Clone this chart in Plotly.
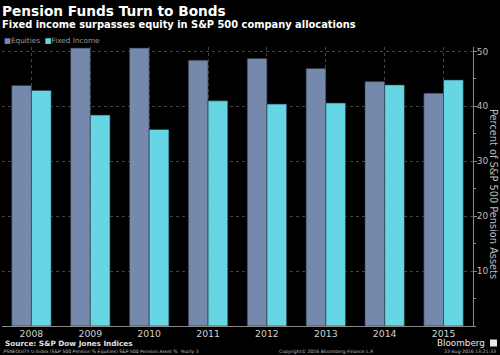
import plotly.graph_objects as go

years = ["2008", "2009", "2010", "2011", "2012", "2013", "2014", "2015"]
equities = [43.8, 50.6, 50.6, 48.4, 48.7, 46.9, 44.5, 42.4]
fixed_income = [42.9, 38.4, 35.8, 41.0, 40.4, 40.6, 43.9, 44.8]
series_names = ["Equities", "Fixed Income"]
colors = ["#7489ac", "#66d5e4"]
y_ticks = [10, 20, 30, 40, 50]

W, H = 500, 355
L, R, T, B = 2, 27, 47, 29
PW, PH = W - L - R, H - T - B


def px(x):
    return (x - L) / PW


def py(y):
    return (H - B - y) / PH


fig = go.Figure()
for name, vals, col in zip(series_names, [equities, fixed_income], colors):
    fig.add_trace(go.Bar(
        x=years, y=vals, name=name, marker_color=col,
        marker_line=dict(color="#2a3340", width=0.6), showlegend=False,
    ))

fig.update_layout(
    width=W, height=H,
    margin=dict(l=L, r=R, t=T, b=B, pad=0),
    paper_bgcolor="black", plot_bgcolor="black",
    barmode="group", bargap=0.33, bargroupgap=0,
    font=dict(family="DejaVu Sans", color="#cfcfcf"),
)
fig.update_xaxes(
    type="category", range=[-0.5, 7.5],
    showgrid=True, gridcolor="#444444", griddash="dot", gridwidth=1,
    showline=True, linecolor="#8a8a8a", linewidth=1,
    ticks="", tickfont=dict(size=9.3, color="#d0d0d0", family="DejaVu Sans"),
    ticklabelstandoff=-1,
)
fig.update_yaxes(
    side="right", range=[0, 50.8], tickvals=y_ticks,
    showgrid=True, gridcolor="#444444", griddash="dot", gridwidth=1,
    showline=True, linecolor="#8a8a8a", linewidth=1,
    ticks="outside", ticklen=3, tickcolor="#8a8a8a",
    minor=dict(dtick=5, ticks="outside", ticklen=2, tickcolor="#8a8a8a", showgrid=False),
    tickfont=dict(size=9, color="#bdbdbd", family="DejaVu Sans"),
    ticklabelstandoff=-2,
    zeroline=False,
)

ann = []
ann.append(dict(text="<b>Pension Funds Turn to Bonds</b>", x=px(0), y=py(10.5),
                font=dict(size=13.7, color="white", family="DejaVu Sans")))
ann.append(dict(text="<b>Fixed income surpasses equity in S&P 500 company allocations</b>",
                x=px(0), y=py(24.5), font=dict(size=9.9, color="white", family="DejaVu Sans")))
leg = ("<span style='color:%s'>■</span><span style='color:#9a9a9a'>%s</span>"
       "&nbsp;&nbsp;<span style='color:%s'>■</span><span style='color:#9a9a9a'>%s</span>") % (
    colors[0], series_names[0], colors[1], series_names[1])
ann.append(dict(text=leg, x=px(2), y=py(40.5), font=dict(size=7.3, family="DejaVu Sans")))
ann.append(dict(text="Percent of S&P 500 Pension Assets", x=px(494), y=py(194), xanchor="center",
                textangle=90, font=dict(size=9.8, color="#bdbdbd", family="DejaVu Sans")))
ann.append(dict(text="<b>Source: S&P Dow Jones Indices</b>", x=px(3), y=py(343.5),
                font=dict(size=7.3, color="#e0e0e0", family="DejaVu Sans")))
ann.append(dict(text="Bloomberg", x=px(487), y=py(343), xanchor="right",
                font=dict(size=8.8, color="#e8e8e8", family="DejaVu Sans")))
ann.append(dict(text=".PSNEQUITY U Index (S&P 500 Pension % Equities) S&P 500 Pension Asset %  Yearly 3",
                x=px(0), y=py(351.5), font=dict(size=4.6, color="#bdbdbd", family="DejaVu Sans")))
ann.append(dict(text="Copyright© 2016 Bloomberg Finance L.P.", x=px(277), y=py(351.5),
                font=dict(size=4.6, color="#bdbdbd", family="DejaVu Sans")))
ann.append(dict(text="22-Aug-2016 13:21:33", x=px(498), y=py(351.5), xanchor="right",
                font=dict(size=4.6, color="#bdbdbd", family="DejaVu Sans")))
for a in ann:
    a.setdefault("xanchor", "left")
    a.update(xref="paper", yref="paper", yanchor="middle", showarrow=False)
fig.update_layout(annotations=ann)

fig.add_shape(type="rect", xref="paper", yref="paper",
              x0=px(490), x1=px(497), y0=py(346.5), y1=py(339.5),
              fillcolor="#e8e8e8", line=dict(width=0))

fig.write_html("out.html", config={"displayModeBar": False},
               post_script="document.body.style.margin='0';document.body.style.background='black';")
